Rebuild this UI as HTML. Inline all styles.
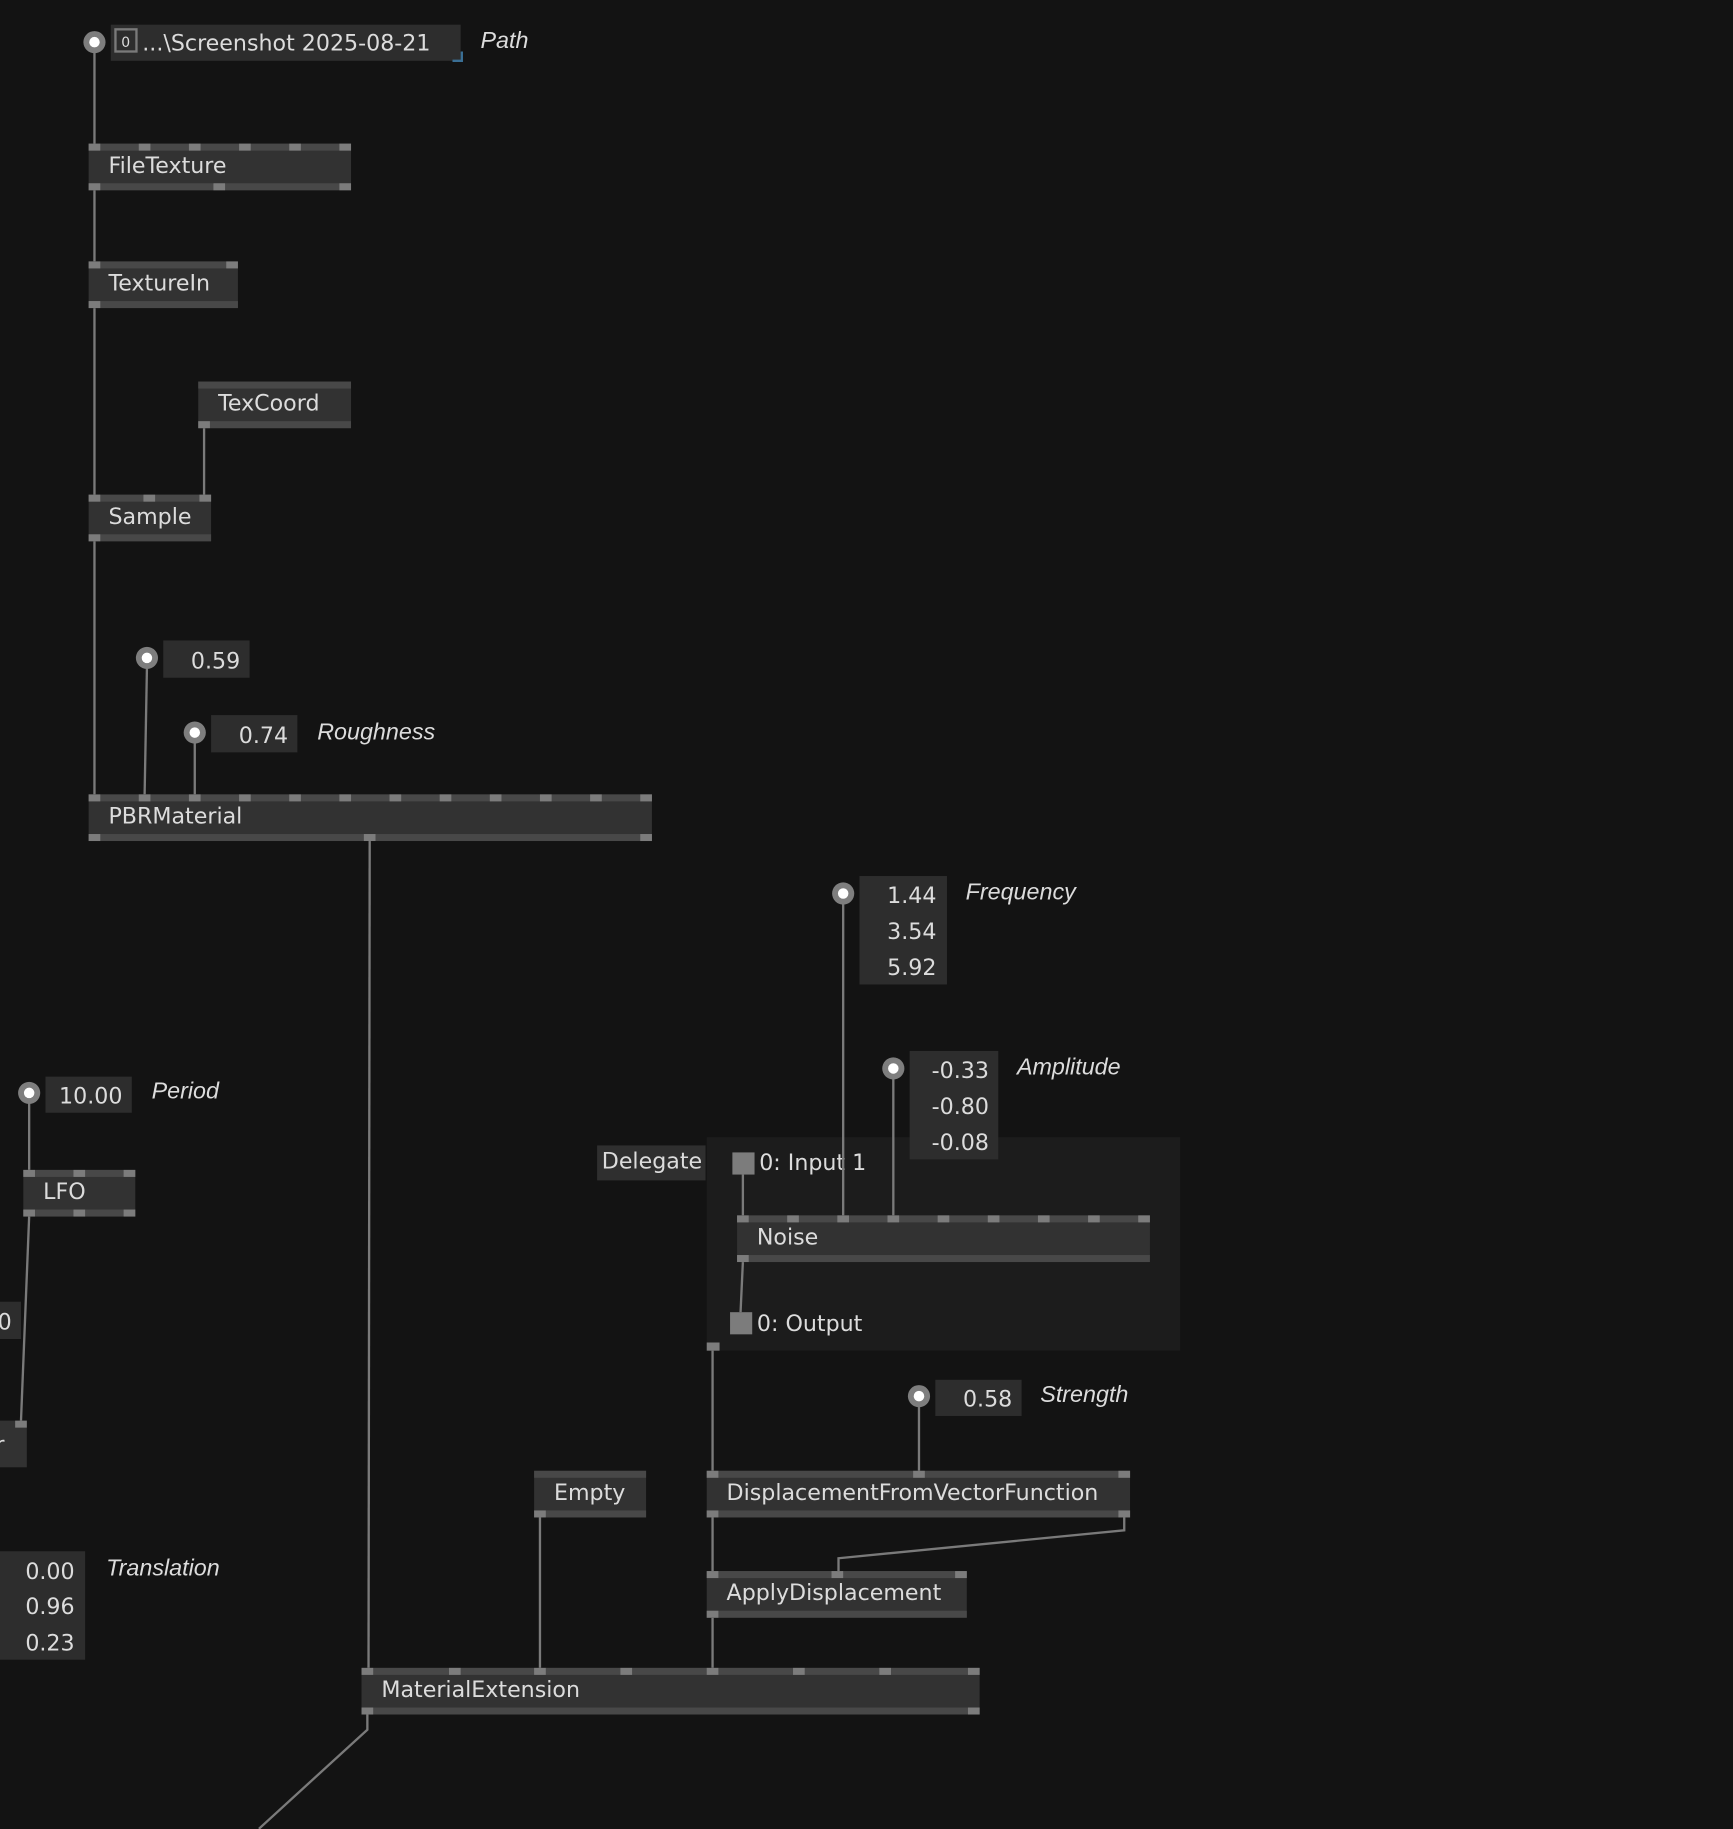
<!DOCTYPE html>
<html><head><meta charset="utf-8"><style>
html,body{margin:0;padding:0;background:#131313;overflow:hidden}
svg{display:block}
text{font-family:"DejaVu Sans","Liberation Sans",sans-serif;fill:#dcdcdc;font-size:19px}
.it{font-style:italic;font-family:"Liberation Sans","DejaVu Sans",sans-serif;font-size:20px}
.w{stroke:#7a7a7a;stroke-width:2;fill:none}
</style></head><body>
<svg width="1733" height="1829" viewBox="0 0 1486 1568" xmlns="http://www.w3.org/2000/svg">
<rect x="0" y="0" width="1486" height="1568" fill="#131313"/>
<defs>
<g id="io"><circle r="9.5" fill="#7e7e7e"/><circle r="4.5" fill="#fff"/></g>
</defs>

<!-- delegate region -->
<rect x="606" y="975" width="406" height="183" fill="#1c1c1c"/>
<rect x="512" y="982" width="93" height="30" fill="#2f2f2f"/>
<text x="516" y="1002">Delegate</text>
<rect x="628" y="988" width="19" height="19" fill="#7c7c7c"/>
<text x="651" y="1003">0:  Input 1</text>
<rect x="626" y="1125" width="19" height="19" fill="#7c7c7c"/>
<text x="649" y="1141">0:  Output</text>
<rect x="606" y="1151" width="11" height="7" fill="#7c7c7c"/>

<!-- wires -->
<g class="w">
<path d="M81 44V123"/><path d="M81 163V224"/><path d="M81 264V424"/>
<path d="M175 367V424"/><path d="M81 464V681"/>
<path d="M126 572L124 681"/><path d="M167 636V681"/>
<path d="M317 721L316 1430"/>
<path d="M723 774V1042"/><path d="M766 924V1042"/>
<path d="M637 1007V1042"/><path d="M637 1082L635 1125"/>
<path d="M611 1158V1261"/><path d="M788 1205V1261"/>
<path d="M611 1301V1347"/>
<path d="M964 1301V1312L719 1336V1347"/>
<path d="M463 1301V1430"/><path d="M611 1387V1430"/>
<path d="M315 1470V1483L222 1568"/>
<path d="M25 945V1003"/><path d="M25 1043L18 1218"/>
</g>

<!-- nodes -->
<g id="nodes">
</g>
<script>
const nodes=[
 ["FileTexture",76,123,225,[0,43,86,129,172,215],[0,107,215]],
 ["TextureIn",76,224,128,[0,118],[0]],
 ["TexCoord",170,327,131,[],[0]],
 ["Sample",76,424,105,[0,47,95],[0]],
 ["PBRMaterial",76,681,483,[0,43,86,129,172,215,258,301,344,387,430,473],[0,236,473]],
 ["LFO",20,1003,96,[0,43,86],[0,43,86]],
 ["Noise",632,1042,354,[0,43,86,129,172,215,258,301,344],[0]],
 ["DisplacementFromVectorFunction",606,1261,363,[0,177,353],[0,353]],
 ["Empty",458,1261,96,[],[0]],
 ["ApplyDisplacement",606,1347,223,[0,107,213],[0]],
 ["MaterialExtension",310,1430,530,[0,75,148,222,296,370,444,520],[0,520]]
];
const g=document.getElementById('nodes');const NS="http://www.w3.org/2000/svg";
function r(x,y,w,h,f){const e=document.createElementNS(NS,'rect');e.setAttribute('x',x);e.setAttribute('y',y);e.setAttribute('width',w);e.setAttribute('height',h);e.setAttribute('fill',f);g.appendChild(e);}
for(const [n,x,y,w,tp,bp] of nodes){
 r(x,y,w,40,'#323232');r(x,y,w,6,'#484848');r(x,y+34,w,6,'#484848');
 for(const p of tp)r(x+p,y,10,6,'#7c7c7c');
 for(const p of bp)r(x+p,y+34,10,6,'#7c7c7c');
 const t=document.createElementNS(NS,'text');t.setAttribute('x',x+17);t.setAttribute('y',y+25);t.textContent=n;g.appendChild(t);
}
</script>

<!-- partial node r -->
<rect x="-5" y="1218" width="28" height="40" fill="#323232"/>
<rect x="13" y="1218" width="10" height="6" fill="#7c7c7c"/>
<text x="-4" y="1245">r</text>

<!-- IO boxes -->
<use href="#io" x="81" y="36"/>
<rect x="95" y="21" width="300" height="31" fill="#2d2d2d"/>
<rect x="99" y="25" width="18" height="19" fill="none" stroke="#7a7a7a" stroke-width="2"/>
<text x="104" y="40" style="font-size:12px">0</text>
<text x="122" y="43">...\Screenshot 2025-08-21</text>
<path d="M388 52H396V44" stroke="#3a6f95" stroke-width="2" fill="none"/>
<text class="it" x="412" y="41">Path</text>

<use href="#io" x="126" y="564"/>
<rect x="140" y="549" width="74" height="32" fill="#2d2d2d"/>
<text x="206" y="573" text-anchor="end">0.59</text>

<use href="#io" x="167" y="628"/>
<rect x="181" y="613" width="74" height="32" fill="#2d2d2d"/>
<text x="247" y="637" text-anchor="end">0.74</text>
<text class="it" x="272" y="634">Roughness</text>

<use href="#io" x="723" y="766"/>
<rect x="737" y="751" width="75" height="93" fill="#2d2d2d"/>
<text x="803" y="774" text-anchor="end">1.44</text>
<text x="803" y="805" text-anchor="end">3.54</text>
<text x="803" y="836" text-anchor="end">5.92</text>
<text class="it" x="828" y="771">Frequency</text>

<use href="#io" x="766" y="916"/>
<rect x="780" y="901" width="76" height="93" fill="#2d2d2d"/>
<text x="848" y="924" text-anchor="end">-0.33</text>
<text x="848" y="955" text-anchor="end">-0.80</text>
<text x="848" y="986" text-anchor="end">-0.08</text>
<text class="it" x="872" y="921">Amplitude</text>

<use href="#io" x="25" y="937"/>
<rect x="39" y="923" width="74" height="31" fill="#2d2d2d"/>
<text x="105" y="946" text-anchor="end">10.00</text>
<text class="it" x="130" y="942">Period</text>

<use href="#io" x="788" y="1197"/>
<rect x="802" y="1183" width="74" height="31" fill="#2d2d2d"/>
<text x="868" y="1206" text-anchor="end">0.58</text>
<text class="it" x="892" y="1202">Strength</text>

<rect x="-5" y="1116" width="23" height="32" fill="#2d2d2d"/>
<text x="-2" y="1140">0</text>

<rect x="-5" y="1330" width="78" height="93" fill="#2d2d2d"/>
<text x="64" y="1354" text-anchor="end">0.00</text>
<text x="64" y="1384" text-anchor="end">0.96</text>
<text x="64" y="1415" text-anchor="end">0.23</text>
<text class="it" x="91" y="1351">Translation</text>
</svg>
</body></html>
